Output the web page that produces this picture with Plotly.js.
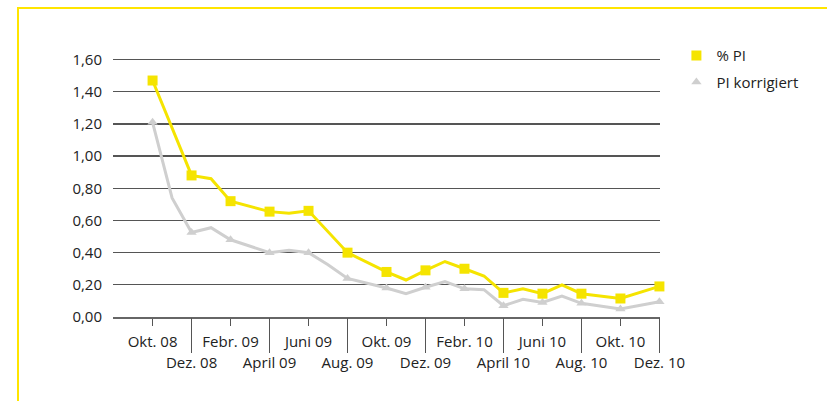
<!DOCTYPE html>
<html>
<head>
<meta charset="utf-8">
<script src="https://cdn.plot.ly/plotly-3.0.1.min.js"></script>
<style>
html,body{margin:0;padding:0;background:#fff;}
#wrap{position:relative;width:827px;height:401px;overflow:hidden;}
#chart{position:absolute;left:0;top:0;width:827px;height:401px;}
#frame{position:absolute;left:17px;top:7px;width:830px;height:420px;border-top:2px solid #ffe500;border-left:2px solid #ffe500;pointer-events:none;}
</style>
</head>
<body>
<div id="wrap"><div id="chart"></div><div id="frame"></div></div>
<script>
// Months Okt. 08 .. Dez. 10 (index 0..26)
var months = ["Okt. 08","Nov. 08","Dez. 08","Jan. 09","Febr. 09","März 09","April 09","Mai 09","Juni 09","Juli 09","Aug. 09","Sept. 09","Okt. 09","Nov. 09","Dez. 09","Jan. 10","Febr. 10","März 10","April 10","Mai 10","Juni 10","Juli 10","Aug. 10","Sept. 10","Okt. 10","Nov. 10","Dez. 10"];
var pctPI = [1.47,null,0.88,0.86,0.72,null,0.655,0.645,0.66,null,0.40,null,0.28,0.23,0.29,0.345,0.30,0.255,0.15,0.175,0.145,0.20,0.145,null,0.115,null,0.19];
var piKorr = [1.21,0.74,0.525,0.555,0.48,null,0.40,0.415,0.40,0.325,0.24,null,0.18,0.145,0.185,0.22,0.175,0.17,0.07,0.11,0.09,0.13,0.085,null,0.05,null,0.095];
var topLabels = ["Okt. 08","Febr. 09","Juni 09","Okt. 09","Febr. 10","Juni 10","Okt. 10"];
var bottomLabels = ["Dez. 08","April 09","Aug. 09","Dez. 09","April 10","Aug. 10","Dez. 10"];
var yTicks = [0,0.2,0.4,0.6,0.8,1.0,1.2,1.4,1.6];

var idx = months.map(function(m,i){return i;});
var topIdx = topLabels.map(function(l){return months.indexOf(l);});
var botIdx = bottomLabels.map(function(l){return months.indexOf(l);});
var markIdx = idx.filter(function(i){return i%2===0;});

var YEL = '#f5e400', GRY = '#cfcfcf';
var FONT = 'Open Sans, sans-serif';

var traces = [
  {x: idx, y: piKorr, mode:'lines', connectgaps:true, cliponaxis:false, line:{color:GRY,width:3}, showlegend:false, hoverinfo:'skip', legendgroup:'b'},
  {x: markIdx, y: markIdx.map(function(i){return piKorr[i];}), mode:'markers', cliponaxis:false, name:'PI korrigiert', legendrank:2, legendgroup:'b',
   marker:{symbol:'triangle-up', size:9, color:GRY}},
  {x: idx, y: pctPI, mode:'lines', connectgaps:true, cliponaxis:false, line:{color:YEL,width:3}, showlegend:false, hoverinfo:'skip', xaxis:'x2', legendgroup:'a'},
  {x: markIdx, y: markIdx.map(function(i){return pctPI[i];}), mode:'markers', cliponaxis:false, name:'% PI', legendrank:1, xaxis:'x2', legendgroup:'a',
   marker:{symbol:'square', size:10, color:YEL}}
];

var xr = [-2.03, 26.03];
var layout = {
  width:827, height:401,
  margin:{l:113, r:167, t:58.4, b:83.7},
  paper_bgcolor:'#fff', plot_bgcolor:'#fff',
  separators:',.',
  font:{family:FONT, size:15, color:'#222'},
  showlegend:true,
  legend:{x:1.03, y:1.072, xanchor:'left', yanchor:'top', font:{size:15, color:'#222'},
          itemwidth:30, tracegroupgap:4, traceorder:'grouped', bgcolor:'rgba(0,0,0,0)'},
  xaxis:{range:xr, showgrid:false, zeroline:false, showline:true, linecolor:'#666', linewidth:1.5,
         tickmode:'array', tickvals:topIdx, ticktext:topLabels, ticks:'outside', ticklen:7, tickwidth:1.2, tickcolor:'#555',
         ticklabelstandoff:3, tickfont:{size:15, color:'#222'}},
  xaxis2:{range:xr, overlaying:'x', anchor:'y', side:'bottom', showgrid:false, zeroline:false, showline:false,
          tickmode:'array', tickvals:botIdx, ticktext:bottomLabels, ticks:'outside', ticklen:35, tickwidth:1.2, tickcolor:'#555',
          ticklabelstandoff:-3, tickfont:{size:15, color:'#222'}},
  yaxis:{range:[0,1.61], tickmode:'array', tickvals:yTicks, tickformat:'.2f', showgrid:true, gridcolor:'#555', gridwidth:1.3,
         zeroline:false, showline:false, ticks:'', ticklabelstandoff:10, tickfont:{size:15, color:'#222'}}
};
Plotly.newPlot('chart', traces, layout, {displayModeBar:false, staticPlot:true});
</script>
</body>
</html>
